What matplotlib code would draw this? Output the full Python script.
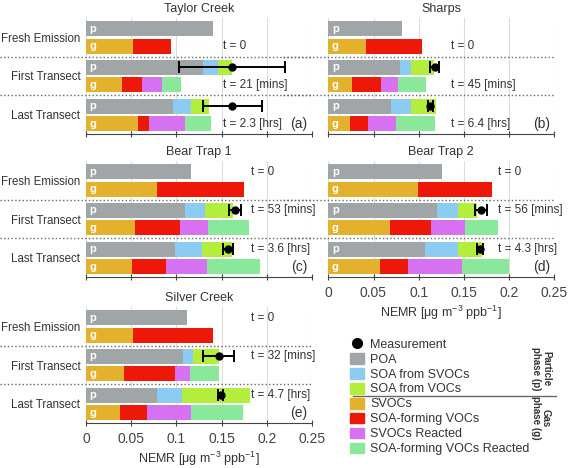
import numpy as np
import matplotlib.pyplot as plt
from matplotlib.lines import Line2D
from matplotlib.patches import Patch

plt.rcParams['font.family'] = ['Liberation Sans', 'DejaVu Sans']

# NEMR values [ug m-3 ppb-1], rows = Fresh Emission, First Transect, Last Transect
sites = ['Taylor Creek', 'Sharps', 'Bear Trap 1', 'Bear Trap 2', 'Silver Creek']
panel_tags = ['(a)', '(b)', '(c)', '(d)', '(e)']
stages = ['Fresh Emission', 'First Transect', 'Last Transect']

# particle phase
poa = [[0.140, 0.129, 0.096],
       [0.082, 0.079, 0.069],
       [0.116, 0.110, 0.099],
       [0.126, 0.120, 0.107],
       [0.112, 0.107, 0.078]]
soa_svoc = [[0, 0.017, 0.020],
            [0, 0.013, 0.022],
            [0, 0.022, 0.029],
            [0, 0.024, 0.036],
            [0, 0.011, 0.028]]
soa_voc = [[0, 0.015, 0.020],
           [0, 0.025, 0.028],
           [0, 0.031, 0.034],
           [0, 0.021, 0.027],
           [0, 0.029, 0.075]]
# gas phase
svoc = [[0.052, 0.040, 0.057],
        [0.042, 0.026, 0.024],
        [0.079, 0.054, 0.051],
        [0.099, 0.068, 0.057],
        [0.052, 0.042, 0.038]]
voc = [[0.042, 0.022, 0.013],
       [0.062, 0.032, 0.020],
       [0.096, 0.050, 0.037],
       [0.082, 0.046, 0.031],
       [0.089, 0.057, 0.030]]
svoc_reacted = [[0, 0.022, 0.039],
                [0, 0.019, 0.031],
                [0, 0.031, 0.046],
                [0, 0.037, 0.060],
                [0, 0.016, 0.048]]
voc_reacted = [[0, 0.021, 0.029],
               [0, 0.031, 0.043],
               [0, 0.045, 0.058],
               [0, 0.037, 0.052],
               [0, 0.032, 0.058]]

# measurements (first, last transect) and error half-widths (low, high)
meas = [[0.162, 0.162], [0.118, 0.113], [0.165, 0.157], [0.169, 0.168], [0.147, 0.149]]
meas_lo = [[0.059, 0.033], [0.005, 0.003], [0.007, 0.006], [0.007, 0.003], [0.018, 0.003]]
meas_hi = [[0.058, 0.033], [0.005, 0.003], [0.007, 0.006], [0.006, 0.003], [0.017, 0.003]]

times = [['t = 0', 't = 21 [mins]', 't = 2.3 [hrs]'],
         ['t = 0', 't = 45 [mins]', 't = 6.4 [hrs]'],
         ['t = 0', 't = 53 [mins]', 't = 3.6 [hrs]'],
         ['t = 0', 't = 56 [mins]', 't = 4.3 [hrs]'],
         ['t = 0', 't = 32 [mins]', 't = 4.7 [hrs]']]
time_x = [0.151, 0.136, 0.183, 0.188, 0.183]

c_poa = '#a0a6a8'
c_soa_svoc = '#8ccbf2'
c_soa_voc = '#b4ee3c'
c_svoc = '#e3b12c'
c_voc = '#ee1808'
c_svoc_r = '#d672f2'
c_voc_r = '#8ae89a'

fig = plt.figure(figsize=(5.69, 4.68), dpi=100)
W, H = 569, 468
aw, ah = 226 / W, 116 / H
lefts = [86 / W, 328.3 / W, 86 / W, 328.3 / W, 86 / W]
tops = [18, 18, 161, 161, 307]

xlabel = 'NEMR [μg m$^{\\mathregular{-3}}$ ppb$^{\\mathregular{-1}}$]'

for i, site in enumerate(sites):
    ax = fig.add_axes([lefts[i], 1 - (tops[i] + 116) / H, aw, ah])
    yp = np.arange(3) + 0.28
    yg = np.arange(3) + 0.73
    hb = 0.39

    left = np.zeros(3)
    for vals, col in [(poa, c_poa), (soa_svoc, c_soa_svoc), (soa_voc, c_soa_voc)]:
        v = np.array(vals[i])
        ax.barh(yp, v, left=left, height=hb, color=col, zorder=2)
        left += v
    left = np.zeros(3)
    for vals, col in [(svoc, c_svoc), (voc, c_voc), (svoc_reacted, c_svoc_r), (voc_reacted, c_voc_r)]:
        v = np.array(vals[i])
        ax.barh(yg, v, left=left, height=hb, color=col, zorder=2)
        left += v

    ax.errorbar(meas[i], yp[1:], xerr=[meas_lo[i], meas_hi[i]], fmt='o', color='black',
                ms=5, elinewidth=1.4, capsize=4, capthick=1.4, zorder=4)

    for k in range(3):
        ax.text(0.004, yp[k], 'p', color='white', fontweight='bold', fontsize=8,
                va='center', ha='left', zorder=5)
        ax.text(0.004, yg[k], 'g', color='white', fontweight='bold', fontsize=8,
                va='center', ha='left', zorder=5)
        ty = yg[k] if i < 2 else yp[k]
        ax.text(time_x[i], ty, times[i][k], fontsize=8.5, color='#333333',
                va='center', ha='left', zorder=5)

    ax.text(0.98, yg[2], panel_tags[i], transform=ax.get_yaxis_transform(),
            fontsize=10, color='#333333', ha='right', va='center')

    x0 = -86 / 226 if i % 2 == 0 else -0.2
    for ysep in [1, 2]:
        ax.plot([x0, 1.0], [ysep, ysep], transform=ax.get_yaxis_transform(),
                color='#666666', ls=':', lw=1, clip_on=False, zorder=3)

    ax.set_xlim(0, 0.25)
    ax.set_ylim(3, 0)
    ax.set_xticks([0, 0.05, 0.1, 0.15, 0.2, 0.25])
    ax.xaxis.grid(True, color='#dcdcdc', lw=0.8, zorder=0)
    ax.set_axisbelow(True)
    for s in ['top', 'right', 'left']:
        ax.spines[s].set_visible(False)
    ax.spines['bottom'].set_color('#444444')
    ax.tick_params(axis='x', direction='inout', length=5, color='#444444',
                   labelsize=10, labelcolor='#444444', pad=4)
    if i in (3, 4):
        ax.set_xticklabels(['0', '0.05', '0.1', '0.15', '0.2', '0.25'])
        ax.set_xlabel(xlabel, fontsize=9, color='#333333', labelpad=3)
    else:
        ax.set_xticklabels([])
    if i % 2 == 0:
        ax.set_yticks(np.arange(3) + 0.5)
        ax.set_yticklabels(stages, fontsize=8.3, color='#333333')
        ax.tick_params(axis='y', length=0, pad=4)
    else:
        ax.set_yticks([])
    ax.set_title(site, fontsize=9, color='#333333', pad=4)

# legend
handles = [Line2D([], [], marker='o', color='black', ls='none', ms=7),
           Patch(color=c_poa), Patch(color=c_soa_svoc), Patch(color=c_soa_voc),
           Patch(color=c_svoc), Patch(color=c_voc), Patch(color=c_svoc_r), Patch(color=c_voc_r)]
labels = ['Measurement', 'POA', 'SOA from SVOCs', 'SOA from VOCs', 'SVOCs',
          'SOA-forming VOCs', 'SVOCs Reacted', 'SOA-forming VOCs Reacted']
fig.legend(handles, labels, loc='upper left', bbox_to_anchor=(350 / W, 1 - 338 / H),
           frameon=False, fontsize=9, handlelength=1.1, handleheight=0.95,
           handletextpad=0.5, labelspacing=0.18, borderaxespad=0, borderpad=0,
           labelcolor='#333333')
fig.add_artist(Line2D([353 / W, 556 / W], [1 - 396 / H, 1 - 396 / H], color='#666666', lw=1))
fig.text(541 / W, 1 - 369 / H, 'Particle\nphase (p)', rotation=-90, fontsize=7,
         fontweight='bold', color='#333333', ha='center', va='center', linespacing=1.0)
fig.text(541 / W, 1 - 418 / H, 'Gas\nphase (g)', rotation=-90, fontsize=7,
         fontweight='bold', color='#333333', ha='center', va='center', linespacing=1.0)

fig.savefig('out.png', dpi=100)
